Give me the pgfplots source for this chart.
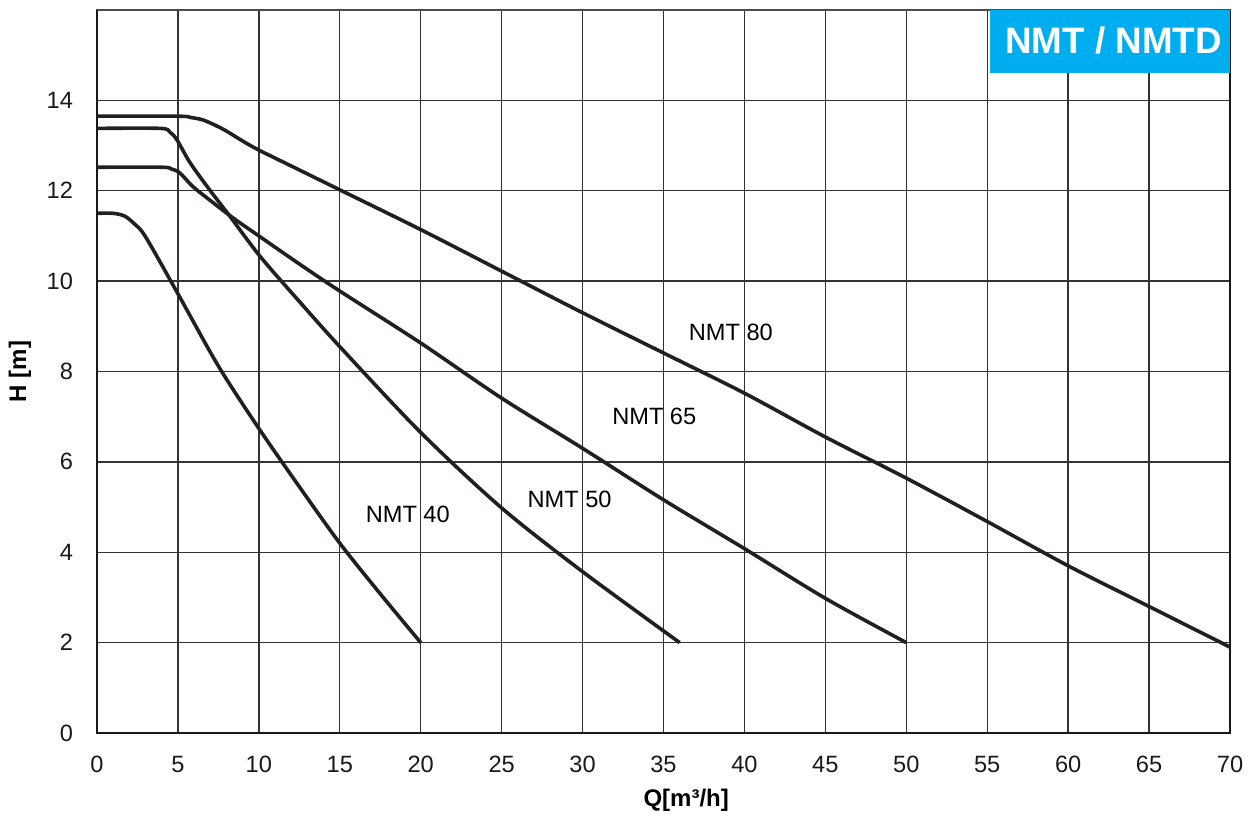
\documentclass[border=0pt]{standalone}
\usepackage{fontspec}
\setmainfont{Liberation Sans}
\usepackage{pgfplots}
\pgfplotsset{compat=1.18}
\definecolor{boxblue}{RGB}{0,174,239}
\definecolor{curve}{RGB}{35,31,32}
\begin{document}
\begin{tikzpicture}
\begin{axis}[
    name=ax,
    scale only axis,
    width=566.5pt, height=361.5pt,
    xmin=0, xmax=70, ymin=0, ymax=16,
    xtick={0,5,...,70}, ytick={0,2,...,14},
    grid=major,
    grid style={black!80, line width=0.65pt},
    major tick length=0pt,
    axis line style={black!70, line width=0.6pt},
    /pgf/number format/assume math mode=true,
    tick label style={font=\fontsize{11.8}{14}\selectfont, black!90},
    xticklabel style={yshift=-8pt},
    yticklabel style={xshift=-8.5pt},
    xlabel={Q[m³/h]}, ylabel={H [m]},
    every axis x label/.style={at={(rel axis cs:0.52,0)}, yshift=-33.5pt, anchor=center, font=\fontsize{12}{14}\selectfont\bfseries},
    every axis y label/.style={at={(rel axis cs:0,0.5)}, xshift=-38.5pt, rotate=90, anchor=center, font=\fontsize{12}{14}\selectfont\bfseries},
    clip=false,
]
% heavy frame on left, bottom and right
\draw[black!90, line width=1.4pt] (rel axis cs:0,1) -- (rel axis cs:0,0) -- (rel axis cs:1,0) -- (rel axis cs:1,1);

% NMT 80
\addplot[curve, line width=1.8pt, smooth, tension=0.5] coordinates {
    (0,13.65) (5,13.65) (5.8,13.62) (6.6,13.56) (7.8,13.36) (9,13.1) (10,12.9)
    (12.5,12.46) (15,12.02) (20,11.14) (25,10.22) (30,9.3) (35,8.41) (40,7.52)
    (45,6.55) (50,5.64) (55,4.68) (60,3.70) (65,2.80) (70,1.9)
};
% NMT 65
\addplot[curve, line width=1.8pt, smooth, tension=0.5] coordinates {
    (0,12.52) (4,12.52) (4.6,12.48) (5.1,12.4) (5.9,12.1) (6.8,11.84) (8.4,11.4)
    (10,11.0) (12.5,10.38) (15,9.78) (20,8.63) (25,7.41) (30,6.3) (35,5.16)
    (40,4.08) (45,2.98) (50,2.0)
};
% NMT 50
\addplot[curve, line width=1.8pt, smooth, tension=0.5] coordinates {
    (0,13.38) (3.9,13.38) (4.5,13.3) (4.95,13.12) (5.75,12.62) (7,12.0) (8.2,11.44)
    (10.07,10.55) (12.5,9.55) (15,8.55) (20,6.65) (25,4.98) (30,3.57) (36,2.0)
};
% NMT 40
\addplot[curve, line width=1.8pt, smooth, tension=0.5] coordinates {
    (0,11.5) (1,11.5) (1.7,11.44) (2.3,11.27) (3,10.98) (5,9.72) (7.5,8.12)
    (10,6.74) (12.5,5.45) (15,4.2) (17.5,3.08) (20,2.0)
};

\node[font=\fontsize{11.8}{14}\selectfont] at (axis cs:39.16,8.86) {NMT 80};
\node[font=\fontsize{11.8}{14}\selectfont] at (axis cs:34.43,7.01) {NMT 65};
\node[font=\fontsize{11.8}{14}\selectfont] at (axis cs:29.2,5.17) {NMT 50};
\node[font=\fontsize{11.8}{14}\selectfont] at (axis cs:19.2,4.84) {NMT 40};

% title box
\fill[boxblue] (axis cs:55.2,14.61) rectangle (axis cs:70,16);
\node[white, font=\fontsize{18.4}{20}\selectfont\bfseries] at (axis cs:62.8,15.33) {NMT / NMTD};
\end{axis}
\pgfresetboundingbox
\path ([xshift=-48.5pt,yshift=-42pt]ax.south west) rectangle ([xshift=14pt,yshift=5pt]ax.north east);
\end{tikzpicture}
\end{document}
